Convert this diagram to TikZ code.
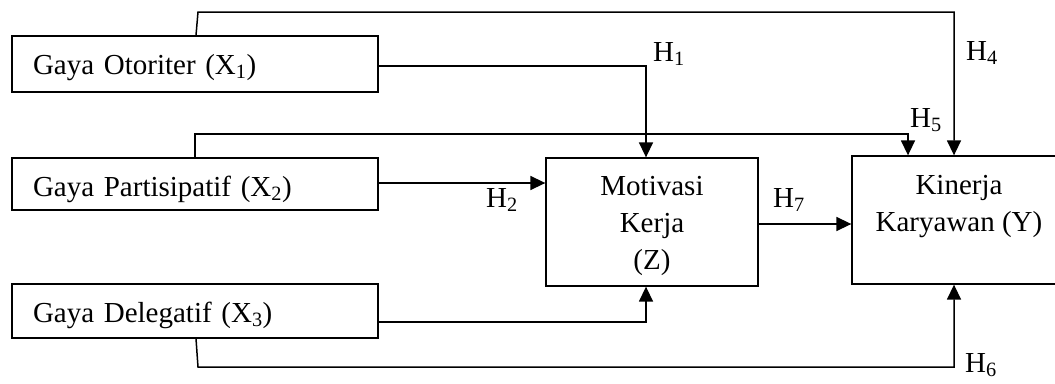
\documentclass[tikz,border=0pt]{standalone}
\usepackage{fontspec}
\setmainfont{Liberation Serif}
\usetikzlibrary{arrows.meta}
\begin{document}
\begin{tikzpicture}[x=1pt,y=-1pt,
  every node/.style={font=\fontsize{29}{37}\selectfont},
  xbox/.style={draw, line width=1.3pt, text width=324pt, align=left, inner xsep=21pt, inner ysep=0pt},
  bigbox/.style={draw, line width=1.3pt, inner sep=0pt},
  conn/.style={line width=1.5pt},
  arr/.style={conn, -{Triangle[length=15pt,width=14pt]}},
  hlab/.style={anchor=base west, inner sep=0pt}
]
\useasboundingbox (0,0) rectangle (1055,383);

\node[xbox, minimum height=56pt, text height=24pt, text depth=4pt] (x1) at (195,64) {Gaya Otoriter (X\textsubscript{1})};
\node[xbox, minimum height=52pt, text height=26pt, text depth=2pt] (x2) at (195,184) {Gaya Partisipatif (X\textsubscript{2})};
\node[xbox, minimum height=54pt, text height=25pt, text depth=3pt] (x3) at (195,311) {Gaya Delegatif (X\textsubscript{3})};

\node[bigbox, minimum width=212pt, minimum height=128pt, text height=10pt, text depth=64pt] (mot) at (652,222) {\begin{tabular}[t]{@{}c@{}}Motivasi\\Kerja\\(Z)\end{tabular}};
\node[bigbox, minimum width=214pt, minimum height=128pt, text height=10pt, text depth=62pt] (kin) at (959,220) {\begin{tabular}[t]{@{}c@{}}Kinerja\\Karyawan (Y)\end{tabular}};

\coordinate (t1) at (198,12);
\coordinate (t2) at (195,134);
\coordinate (b3) at (198,367);

% H1
\draw[arr] ([yshift=-2pt]x1.east) -| ([xshift=-6pt]mot.north);
% H4
\draw[arr] ([xshift=1pt]x1.north) -- (t1) -| ([xshift=-5pt]kin.north);
% H5
\draw[arr] (x2.north) -- (t2) -| ([xshift=-51pt]kin.north);
% H2
\draw[arr] ([yshift=1pt]x2.east) coordinate (a2) -- (a2 -| mot.west);
% X3 -> Z
\draw[arr] ([yshift=-11pt]x3.east) -| ([xshift=-6pt]mot.south);
% H6
\draw[arr] ([xshift=1pt]x3.south) -- (b3) -| ([xshift=-5pt]kin.south);
% H7
\draw[arr] ([yshift=-2pt]mot.east) coordinate (a7) -- (a7 -| kin.west);

\node[hlab] (h1) at (653,61) {H\textsubscript{1}};
\node[hlab] (h2) at (486,207) {H\textsubscript{2}};
\node[hlab] (h4) at (966,60) {H\textsubscript{4}};
\node[hlab] (h5) at (910,127) {H\textsubscript{5}};
\node[hlab] (h6) at (965,372) {H\textsubscript{6}};
\node[hlab] (h7) at (773,207) {H\textsubscript{7}};
\end{tikzpicture}
\end{document}
